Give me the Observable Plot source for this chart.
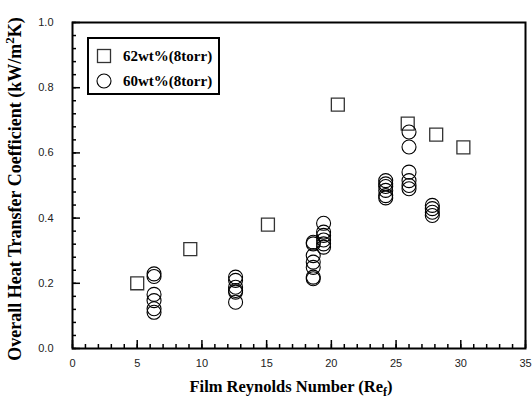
<!DOCTYPE html>
<html>
<head>
<meta charset="utf-8">
<script src="https://cdn.jsdelivr.net/npm/d3@7"></script>
<script src="https://cdn.jsdelivr.net/npm/@observablehq/plot@0.6"></script>
<style>
  html, body { margin: 0; padding: 0; background: #fff; }
  #wrap { position: relative; width: 532px; height: 405px; }
  #legend { position: absolute; left: 87px; top: 37px; width: 129px; height: 54px;
    border: 2px solid #000; font-family: "Liberation Serif", serif; font-weight: bold; font-size: 15px; color: #000; }
  .item { position: absolute; left: 7px; display: flex; align-items: center; height: 18px; }
  .item svg { margin-right: 11px; }
</style>
</head>
<body>
<div id="wrap">
  <div id="legend">
    <div class="item" style="top:8px"><svg width="16" height="16"><rect x="1.5" y="1.5" width="13" height="13" fill="none" stroke="#333" stroke-width="1.3"/></svg><span>62wt%(8torr)</span></div>
    <div class="item" style="top:33px"><svg width="16" height="16"><circle cx="8" cy="8" r="7" fill="none" stroke="#000" stroke-width="1.1"/></svg><span>60wt%(8torr)</span></div>
  </div>
</div>
<script>
// 62wt%(8torr) series (squares)
const sqRe = [5.0, 9.1, 15.1, 20.5, 25.9, 28.1, 30.2];
const sqH  = [0.20, 0.305, 0.38, 0.748, 0.69, 0.656, 0.617];

// 60wt%(8torr) series (circles)
const ciRe = [
  6.3, 6.3, 6.3, 6.3, 6.3, 6.3,
  12.6, 12.6, 12.6, 12.6, 12.6, 12.6,
  18.6, 18.6, 18.6, 18.6, 18.6, 18.6, 18.6,
  19.4, 19.4, 19.4, 19.4, 19.4, 19.4,
  24.2, 24.2, 24.2, 24.2, 24.2, 24.2,
  26.0, 26.0, 26.0, 26.0, 26.0, 26.0,
  27.8, 27.8, 27.8, 27.8
];
const ciH = [
  0.229, 0.221, 0.166, 0.147, 0.122, 0.111,
  0.219, 0.209, 0.188, 0.178, 0.173, 0.142,
  0.326, 0.321, 0.285, 0.265, 0.249, 0.219, 0.214,
  0.384, 0.357, 0.347, 0.333, 0.321, 0.311,
  0.515, 0.505, 0.497, 0.485, 0.469, 0.462,
  0.664, 0.618, 0.541, 0.515, 0.500, 0.490,
  0.439, 0.429, 0.418, 0.408
];

const xMajor = [0, 5, 10, 15, 20, 25, 30, 35];
const xMinor = d3.range(0, 36, 1);
const yMajor = [0, 0.2, 0.4, 0.6, 0.8, 1.0];
const yMinor = d3.range(0, 26, 1).map(i => i * 0.04);

const squares = sqRe.map((x, i) => ({x, y: sqH[i]}));
const circles = ciRe.map((x, i) => ({x, y: ciH[i]}));

const W = 532, H = 405, mL = 72, mR = 7, mT = 22, mB = 57;
const innerW = W - mL - mR, innerH = H - mT - mB;

const chart = Plot.plot({
  width: W, height: H,
  marginLeft: mL, marginRight: mR, marginTop: mT, marginBottom: mB,
  style: {fontFamily: "Liberation Sans, Arial, sans-serif", fontSize: "11px", color: "#222", background: "#fff"},
  x: {domain: [0, 35]},
  y: {domain: [0, 1]},
  marks: [
    // inward ticks on bottom and left axes
    Plot.tickX(xMinor, {x: d => d, insetTop: innerH - 4, stroke: "#000", strokeWidth: 1.5}),
    Plot.tickX(xMajor, {x: d => d, insetTop: innerH - 8, stroke: "#000", strokeWidth: 1.5}),
    Plot.tickY(yMinor, {y: d => d, insetRight: innerW - 4, stroke: "#000", strokeWidth: 1.5}),
    Plot.tickY(yMajor, {y: d => d, insetRight: innerW - 8, stroke: "#000", strokeWidth: 1.5}),
    Plot.frame({stroke: "#000", strokeWidth: 2}),
    Plot.axisX(xMajor, {tickSize: 0, tickPadding: 11, label: null, tickFormat: d3.format("d"), fill: "#222"}),
    Plot.axisY(yMajor, {tickSize: 0, tickPadding: 19, label: null, tickFormat: d3.format(".1f"), fill: "#222"}),
    Plot.dot(squares, {x: "x", y: "y", symbol: "square", r: 7.3, stroke: "#333", strokeWidth: 1.3, fill: "none"}),
    Plot.dot(circles, {x: "x", y: "y", symbol: "circle", r: 7, stroke: "#000", strokeWidth: 1.1, fill: "none"})
  ]
});

const svg = d3.select(chart);
const titleFont = "Liberation Serif, Times New Roman, serif";
const xt = svg.append("text")
  .attr("x", 291).attr("y", 392)
  .attr("text-anchor", "middle")
  .attr("font-family", titleFont).attr("font-weight", "bold").attr("font-size", 16.5).attr("fill", "#000");
xt.append("tspan").text("Film Reynolds Number (Re");
xt.append("tspan").attr("font-size", 12).attr("dy", 4).text("f");
xt.append("tspan").attr("dy", -4).text(")");

const yt = svg.append("text")
  .attr("transform", "translate(21,189) rotate(-90)")
  .attr("text-anchor", "middle")
  .attr("font-family", titleFont).attr("font-weight", "bold").attr("font-size", 18).attr("fill", "#000");
yt.append("tspan").text("Overall Heat Transfer Coefficient (kW/m");
yt.append("tspan").attr("font-size", 13).attr("dy", -7).text("2");
yt.append("tspan").attr("dy", 7).text("K)");

document.getElementById("wrap").prepend(chart);
</script>
</body>
</html>
